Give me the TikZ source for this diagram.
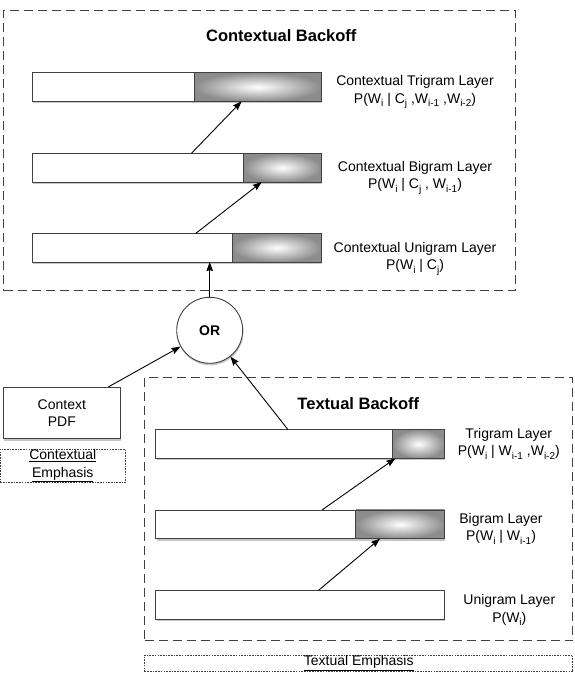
\documentclass[tikz,border=0pt]{standalone}
\usepackage{fontspec}
\setmainfont{Liberation Sans}
\usetikzlibrary{arrows.meta,positioning,shadows}

\newcommand{\lowsub}[1]{\raisebox{-0.45ex}{\fontsize{10}{10}\selectfont #1}}

\begin{document}
\begin{tikzpicture}[x=1pt,y=-1pt,->,>={Stealth[length=9pt,width=6.5pt,inset=1pt]},
      line width=0.9pt, font=\fontsize{14}{17.5}\selectfont,
      bar/.style={rectangle,draw=black!75,fill=white,inner sep=0pt,outer sep=0pt,
        minimum height=28.7pt,
        drop shadow={shadow xshift=0.6pt,shadow yshift=-2pt,opacity=0.45}},
      hot/.style={rectangle,draw=black!75,inner sep=0pt,outer sep=0pt,
        minimum height=28.7pt,inner color=white,outer color=black!45,anchor=east},
      backoffbox/.style={rectangle,draw=black!75,dash pattern=on 9pt off 5pt},
      emphbox/.style={rectangle,draw=black!75,line width=0.7pt,
        dash pattern=on 1.6pt off 1.1pt,align=center,inner sep=0pt},
      heading/.style={font=\fontsize{16.5}{18}\selectfont\bfseries},
      layertext/.style={align=center,inner sep=0pt}]
    \useasboundingbox (0,0) rectangle (574,678);

    % frames
    \node[backoffbox, minimum width=511.7pt, minimum height=280pt] (cframe) at (259.55,150.7) {};
    \node[backoffbox, minimum width=428.2pt, minimum height=263pt] (tframe) at (358.7,509.2) {};
    \node[heading] (ctitle) at (281.3,36) {Contextual Backoff};
    \node[heading] (ttitle) at (358.3,403.3) {Textual Backoff};

    % contextual layers
    \node[bar, minimum width=289.2pt] (ctri) at (176.8,87) {};
    \node[hot, minimum width=127.4pt] (ctriS) at (ctri.east) {};
    \node[bar, minimum width=289.2pt] (cbi) at (176.8,167.7) {};
    \node[hot, minimum width=78pt] (cbiS) at (cbi.east) {};
    \node[bar, minimum width=289.2pt] (cuni) at (176.8,247.7) {};
    \node[hot, minimum width=89pt] (cuniS) at (cuni.east) {};

    \node[layertext] (ctriL) at (415,91.9)
      {Contextual Trigram Layer\\P(W\lowsub{i} | C\lowsub{j} ,W\lowsub{i-1} ,W\lowsub{i-2})};
    \node[layertext] (cbiL) at (415,177.6)
      {Contextual Bigram Layer\\P(W\lowsub{i} | C\lowsub{j} , W\lowsub{i-1})};
    \node[layertext] (cuniL) at (415,258.6)
      {Contextual Unigram Layer\\P(W\lowsub{i} | C\lowsub{j})};

    % textual layers
    \node[bar, minimum width=288.8pt] (ttri) at (300.3,444) {};
    \node[hot, minimum width=52pt] (ttriS) at (ttri.east) {};
    \node[bar, minimum width=288.8pt] (tbi) at (300.3,524.3) {};
    \node[hot, minimum width=88.9pt] (tbiS) at (tbi.east) {};
    \node[bar, minimum width=288.8pt] (tuni) at (300.3,604.8) {};

    \node[layertext] (ttriL) at (508.8,443.6)
      {Trigram Layer\\P(W\lowsub{i} | W\lowsub{i-1} ,W\lowsub{i-2})};
    \node[layertext] (tbiL) at (501,528.6)
      {Bigram Layer\\P(W\lowsub{i} | W\lowsub{i-1})};
    \node[layertext] (tuniL) at (509.3,610.2)
      {Unigram Layer\\P(W\lowsub{i})};

    % combination
    \node[circle, draw=black!75, fill=white, minimum size=66pt, inner sep=0pt,
          font=\fontsize{14}{14}\selectfont\bfseries,
          drop shadow={shadow xshift=0.6pt,shadow yshift=-2pt,opacity=0.45}] (or) at (209.7,330.3) {OR};
    \node[rectangle, draw=black!75, fill=white, minimum width=116.3pt, minimum height=51.4pt,
          align=center, inner sep=0pt,
          drop shadow={shadow xshift=0.6pt,shadow yshift=-2pt,opacity=0.45}] (pdf) at (61.85,413) {Context\\PDF};

    \node[emphbox, minimum width=125pt, minimum height=33.7pt] (cemph) at (62.75,465.85)
      {\underline{Contextual}\\\underline{Emphasis}};
    \node[emphbox, minimum width=428.2pt, minimum height=16.7pt] (temph) at (358.7,663.35)
      {\underline{Textual Emphasis}};

    % connectors
    \draw ([xshift=163.6pt]cuni.north west) -- ([xshift=18.3pt]cbiS.south west);
    \draw ([xshift=159.2pt]cbi.north west) -- ([xshift=47.6pt]ctriS.south west);
    \draw ([xshift=162.5pt]tuni.north west) -- ([xshift=24.2pt]tbiS.south west);
    \draw ([xshift=166.2pt]tbi.north west) -- ([xshift=2.6pt]ttriS.south west);
    \draw (or) -- (or |- cuni.south);
    \draw ([xshift=-12pt]pdf.north east) -- (or);
    \draw ([xshift=132.1pt]ttri.north west) -- (or);
\end{tikzpicture}
\end{document}
